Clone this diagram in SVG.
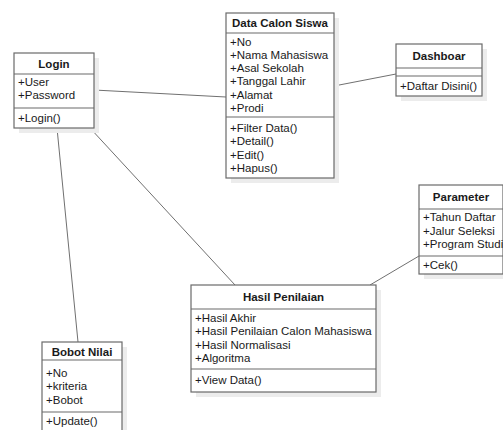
<svg xmlns="http://www.w3.org/2000/svg" width="503" height="430" viewBox="0 0 503 430">
<style>
.sh{fill:#ececec;stroke:none}
.bx{fill:#ffffff;stroke:#6a6a6a;stroke-width:1.2}
.ln{stroke:#6a6a6a;stroke-width:1.2;fill:none}
.t{font-family:"Liberation Sans",Arial,sans-serif;font-size:11.5px;fill:#1a1a1a}
.h{font-family:"Liberation Sans",Arial,sans-serif;font-size:11.5px;font-weight:bold;fill:#1a1a1a;text-anchor:middle}
.c{stroke:#707070;stroke-width:1;fill:none}
</style>
<rect width="503" height="430" fill="#ffffff"/>
<g id="connectors">
<line class="c" x1="94" y1="90" x2="226" y2="97"/>
<line class="c" x1="334" y1="86" x2="396" y2="74"/>
<line class="c" x1="57" y1="128" x2="78" y2="342"/>
<line class="c" x1="90" y1="128" x2="235" y2="285"/>
<line class="c" x1="419" y1="256" x2="370" y2="285"/>
</g>
<g id="login">
<rect class="sh" x="19" y="58" width="80" height="75"/>
<rect class="bx" x="14" y="53" width="80" height="75"/>
<line class="ln" x1="14" y1="74" x2="94" y2="74"/>
<line class="ln" x1="14" y1="108" x2="94" y2="108"/>
<text class="h" x="54" y="68">Login</text>
<text class="t" x="18" y="86">+User</text>
<text class="t" x="18" y="99">+Password</text>
<text class="t" x="18" y="122">+Login()</text>
</g>
<g id="data-calon-siswa">
<rect class="sh" x="231" y="18" width="108" height="165"/>
<rect class="bx" x="226" y="13" width="108" height="165"/>
<line class="ln" x1="226" y1="33" x2="334" y2="33"/>
<line class="ln" x1="226" y1="117" x2="334" y2="117"/>
<text class="h" x="280" y="27">Data Calon Siswa</text>
<text class="t" x="230" y="45.5">+No</text>
<text class="t" x="230" y="58.8">+Nama Mahasiswa</text>
<text class="t" x="230" y="72.1">+Asal Sekolah</text>
<text class="t" x="230" y="85.4">+Tanggal Lahir</text>
<text class="t" x="230" y="98.7">+Alamat</text>
<text class="t" x="230" y="112">+Prodi</text>
<text class="t" x="230" y="132">+Filter Data()</text>
<text class="t" x="230" y="145.3">+Detail()</text>
<text class="t" x="230" y="158.6">+Edit()</text>
<text class="t" x="230" y="171.9">+Hapus()</text>
</g>
<g id="dashboar">
<rect class="sh" x="401" y="49" width="86" height="52"/>
<rect class="bx" x="396" y="44" width="86" height="52"/>
<line class="ln" x1="396" y1="68" x2="482" y2="68"/>
<line class="ln" x1="396" y1="76" x2="482" y2="76"/>
<text class="h" x="439" y="60">Dashboar</text>
<text class="t" x="400" y="90">+Daftar Disini()</text>
</g>
<g id="parameter">
<rect class="sh" x="424" y="190" width="84" height="89"/>
<rect class="bx" x="419" y="185" width="84" height="89"/>
<line class="ln" x1="419" y1="209" x2="503" y2="209"/>
<line class="ln" x1="419" y1="256" x2="503" y2="256"/>
<text class="h" x="461" y="201">Parameter</text>
<text class="t" x="423" y="221">+Tahun Daftar</text>
<text class="t" x="423" y="234.5">+Jalur Seleksi</text>
<text class="t" x="423" y="248">+Program Studi</text>
<text class="t" x="423" y="269">+Cek()</text>
</g>
<g id="hasil-penilaian">
<rect class="sh" x="196" y="290" width="185" height="107"/>
<rect class="bx" x="191" y="285" width="185" height="107"/>
<line class="ln" x1="191" y1="309" x2="376" y2="309"/>
<line class="ln" x1="191" y1="369" x2="376" y2="369"/>
<text class="h" x="283.5" y="301">Hasil Penilaian</text>
<text class="t" x="195" y="322">+Hasil Akhir</text>
<text class="t" x="195" y="335.3">+Hasil Penilaian Calon Mahasiswa</text>
<text class="t" x="195" y="348.6">+Hasil Normalisasi</text>
<text class="t" x="195" y="361.9">+Algoritma</text>
<text class="t" x="195" y="384">+View Data()</text>
</g>
<g id="bobot-nilai">
<rect class="sh" x="47" y="347" width="80" height="92"/>
<rect class="bx" x="42" y="342" width="80" height="92"/>
<line class="ln" x1="42" y1="360" x2="122" y2="360"/>
<line class="ln" x1="42" y1="412" x2="122" y2="412"/>
<text class="h" x="82" y="356">Bobot Nilai</text>
<text class="t" x="46" y="377">+No</text>
<text class="t" x="46" y="390.3">+kriteria</text>
<text class="t" x="46" y="403.6">+Bobot</text>
<text class="t" x="46" y="425">+Update()</text>
</g>
</svg>
